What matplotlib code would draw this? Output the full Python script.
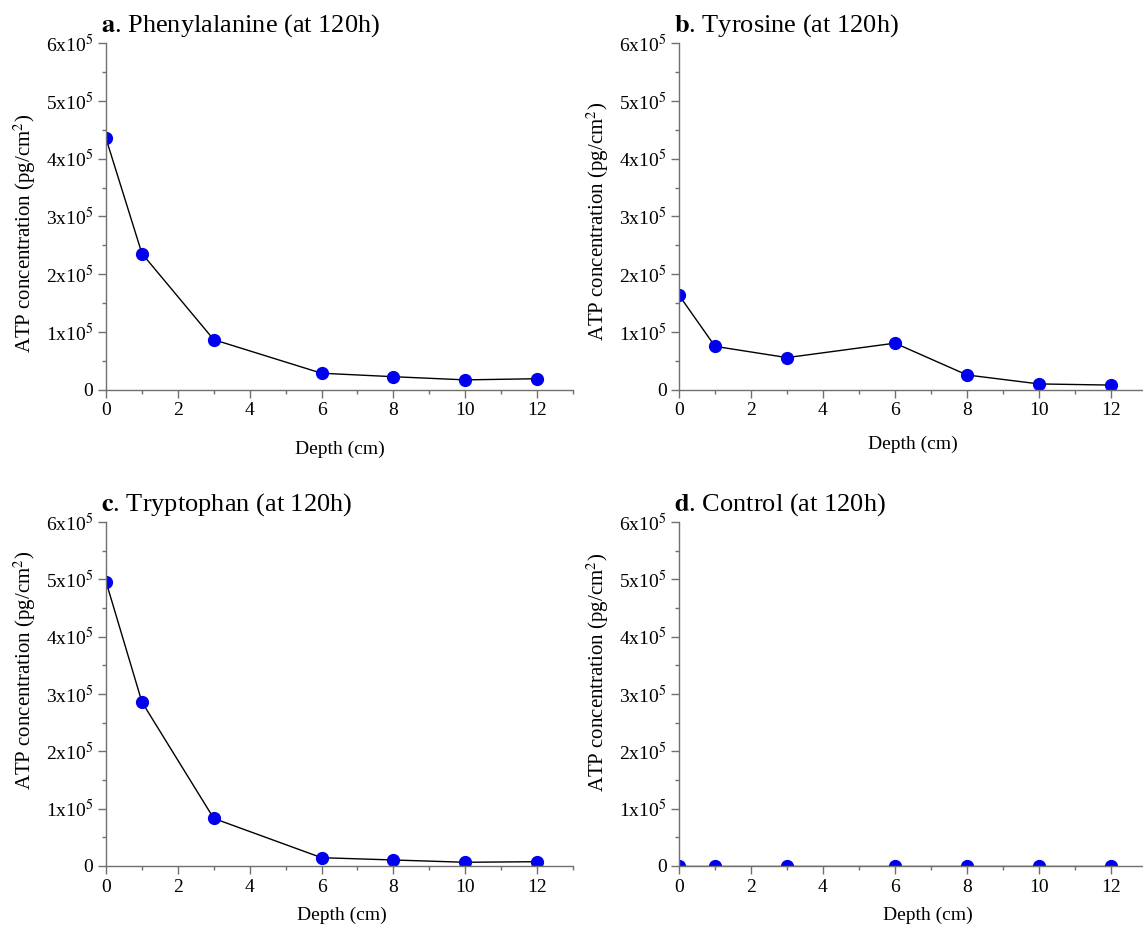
import matplotlib
matplotlib.use("Agg")
import matplotlib.pyplot as plt
from matplotlib.ticker import FuncFormatter, MultipleLocator

plt.rcParams['font.family'] = ['Liberation Serif', 'DejaVu Serif']
plt.rcParams['mathtext.fontset'] = 'stix'

depth = [0, 1, 3, 6, 8, 10, 12]
phenylalanine = [435000, 236000, 87000, 29000, 23000, 17500, 19500]
tyrosine = [164000, 75500, 56000, 81000, 26000, 10500, 8500]
tryptophan = [496000, 286000, 83000, 14500, 10500, 6500, 7500]
control = [0, 0, 0, 0, 0, 0, 0]

panels = [("a", "Phenylalanine (at 120h)", phenylalanine),
          ("b", "Tyrosine (at 120h)", tyrosine),
          ("c", "Tryptophan (at 120h)", tryptophan),
          ("d", "Control (at 120h)", control)]

W, H = 1143, 926
# axes boxes in pixels: left, top, right, bottom
boxes = [(106, 43, 573, 390), (679, 43, 1147, 390),
         (106, 522, 573, 866), (679, 522, 1147, 866)]
# small per-panel label placement tweaks (the original was laid out by hand)
ylabel_y = [0.452, 0.486, 0.569, 0.562]
xlabel_pad = [15, 12, 8, 8]
xlabel_x = [0.5, 0.5, 0.505, 0.532]

def fmt(v, pos):
    n = int(round(v / 1e5))
    if n == 0:
        return "0"
    return f"{n}x10$^5$"

fig = plt.figure(figsize=(W / 100, H / 100), dpi=100)
for i, ((letter, name, vals), (l, t, r, b)) in enumerate(zip(panels, boxes)):
    ax = fig.add_axes([l / W, 1 - b / H, (r - l) / W, (b - t) / H])
    ax.plot(depth, vals, color='black', lw=1, marker='o', markersize=8.5,
            markerfacecolor='#0000ee', markeredgecolor='#0000ee')
    ax.set_xlim(0, 13)
    ax.set_ylim(0, 6e5)
    ax.xaxis.set_major_locator(MultipleLocator(2))
    ax.xaxis.set_minor_locator(MultipleLocator(1))
    ax.yaxis.set_major_locator(MultipleLocator(1e5))
    ax.yaxis.set_minor_locator(MultipleLocator(0.5e5))
    ax.yaxis.set_major_formatter(FuncFormatter(fmt))
    for s in ['top', 'right']:
        ax.spines[s].set_visible(False)
    for s in ['left', 'bottom']:
        ax.spines[s].set_color('#707070')
        ax.spines[s].set_linewidth(1)
    ax.tick_params(which='major', length=6, width=1, color='#707070',
                   labelsize=14, pad=3)
    ax.tick_params(which='minor', length=3, width=1, color='#707070')
    ax.set_xlabel("Depth (cm)", fontsize=14, labelpad=xlabel_pad[i])
    ax.xaxis.label.set_x(xlabel_x[i])
    ax.set_ylabel("ATP concentration (pg/cm$^2$)", fontsize=15, labelpad=6)
    ax.yaxis.label.set_y(ylabel_y[i])
    ax.set_title(r"$\mathbf{" + letter + "}$. " + name, loc='left',
                 fontsize=19, pad=8, x=-0.01)

fig.savefig("out.png", dpi=100)
